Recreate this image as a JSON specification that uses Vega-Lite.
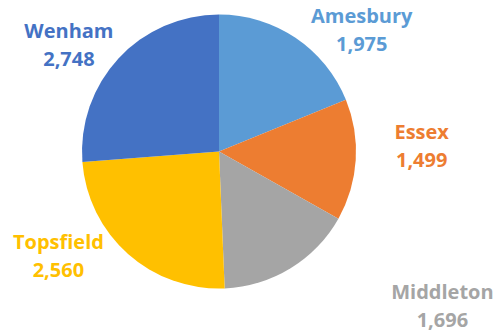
{
  "$schema": "https://vega.github.io/schema/vega-lite/v6.json",
  "width": 438,
  "height": 303,
  "autosize": {"type": "none"},
  "padding": {"left": 0, "top": 0, "right": 60, "bottom": 30},
  "background": "white",
  "config": {"view": {"stroke": null}},
  "data": {
    "values": [
      {"town": "Amesbury", "value": 1975},
      {"town": "Essex", "value": 1499},
      {"town": "Middleton", "value": 1696},
      {"town": "Topsfield", "value": 2560},
      {"town": "Wenham", "value": 2748}
    ]
  },
  "transform": [
    {"calculate": "datum.town + '\\n' + format(datum.value, ',')", "as": "label"}
  ],
  "encoding": {
    "theta": {"field": "value", "type": "quantitative", "stack": true},
    "color": {
      "field": "town",
      "type": "nominal",
      "scale": {
        "domain": ["Amesbury", "Essex", "Middleton", "Topsfield", "Wenham"],
        "range": ["#5B9BD5", "#ED7D31", "#A5A5A5", "#FFC000", "#4472C4"]
      },
      "legend": null
    }
  },
  "layer": [
    {"mark": {"type": "arc", "outerRadius": 137}},
    {
      "mark": {"type": "text", "radius": 150, "dx": 59, "dy": -10, "font": "Open Sans", "fontWeight": "bold", "fontSize": 20, "lineBreak": "\n", "lineHeight": 28, "align": "center", "baseline": "middle"},
      "encoding": {"text": {"condition": {"test": "datum.town === 'Amesbury'", "field": "label", "type": "nominal"}, "value": ""}}
    },
    {
      "mark": {"type": "text", "radius": 150, "dx": 53, "dy": -28, "font": "Open Sans", "fontWeight": "bold", "fontSize": 20, "lineBreak": "\n", "lineHeight": 28, "align": "center", "baseline": "middle"},
      "encoding": {"text": {"condition": {"test": "datum.town === 'Essex'", "field": "label", "type": "nominal"}, "value": ""}}
    },
    {
      "mark": {"type": "text", "radius": 150, "dx": 145, "dy": 14, "font": "Open Sans", "fontWeight": "bold", "fontSize": 20, "lineBreak": "\n", "lineHeight": 28, "align": "center", "baseline": "middle"},
      "encoding": {"text": {"condition": {"test": "datum.town === 'Middleton'", "field": "label", "type": "nominal"}, "value": ""}}
    },
    {
      "mark": {"type": "text", "radius": 150, "dx": -61, "dy": -21, "font": "Open Sans", "fontWeight": "bold", "fontSize": 20, "lineBreak": "\n", "lineHeight": 28, "align": "center", "baseline": "middle"},
      "encoding": {"text": {"condition": {"test": "datum.town === 'Topsfield'", "field": "label", "type": "nominal"}, "value": ""}}
    },
    {
      "mark": {"type": "text", "radius": 150, "dx": -40, "dy": -18, "font": "Open Sans", "fontWeight": "bold", "fontSize": 20, "lineBreak": "\n", "lineHeight": 28, "align": "center", "baseline": "middle"},
      "encoding": {"text": {"condition": {"test": "datum.town === 'Wenham'", "field": "label", "type": "nominal"}, "value": ""}}
    }
  ]
}
